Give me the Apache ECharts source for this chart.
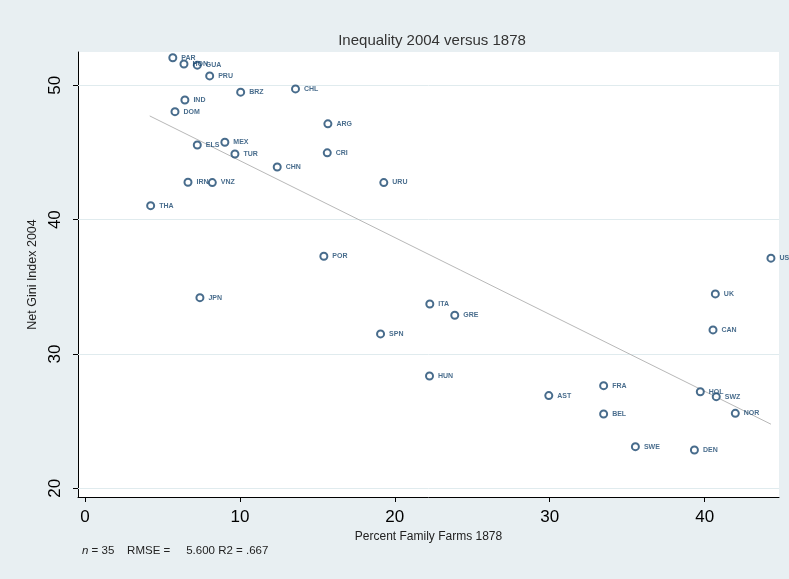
<!DOCTYPE html>
<html>
<head>
<meta charset="utf-8">
<script src="https://cdn.jsdelivr.net/npm/echarts@6/dist/echarts.min.js"></script>
<style>
  html, body { margin: 0; padding: 0; background: #e8eff2; }
  #chart { width: 789px; height: 579px; }
</style>
</head>
<body>
<div id="chart"></div>
<script>
// Country codes
const countries = ['PAR','HON','GUA','PRU','BRZ','IND','DOM','ELS','MEX','TUR','CHN','IRN','VNZ','THA',
  'ARG','CRI','URU','CHL','POR','JPN','SPN','ITA','GRE','HUN','AST','FRA','BEL','SWE','DEN','HOL','SWZ',
  'NOR','CAN','UK','US'];
// Percent family farms, 1878
const familyFarms = [5.67,6.39,7.25,8.05,10.05,6.45,5.81,7.25,9.03,9.68,12.41,6.65,8.22,4.24,
  15.68,15.64,19.29,13.59,15.42,7.42,19.08,22.26,23.87,22.24,29.94,33.48,33.48,35.53,39.34,39.72,40.75,
  41.98,40.54,40.69,44.28];
// Net Gini index, 2004
const gini2004 = [52.05,51.59,51.50,50.70,49.49,48.91,48.04,45.56,45.76,44.89,43.92,42.78,42.76,41.04,
  47.13,44.97,42.76,49.73,37.27,34.19,31.49,33.72,32.88,28.36,26.90,27.64,25.53,23.10,22.85,27.19,26.82,
  25.58,31.79,34.47,37.13];
// Fitted line end points
const fitX = [4.18, 44.28];
const fitY = [47.72, 24.77];
// Tick values
const xTicks = [0, 10, 20, 30, 40];
const yTicks = [20, 30, 40, 50];

const navy = '#1a476f';
const font = 'Liberation Sans, Arial';
const points = countries.map((c, i) => ({ name: c, value: [familyFarms[i], gini2004[i]] }));
const fitLine = fitX.map((x, i) => [x, fitY[i]]);

const chart = echarts.init(document.getElementById('chart'));
chart.setOption({
  backgroundColor: '#e8eff2',
  animation: false,
  title: {
    text: 'Inequality 2004 versus 1878',
    left: 427, top: 28, textAlign: 'center',
    textStyle: { fontFamily: font, fontSize: 15, fontWeight: 'normal', color: '#333' }
  },
  grid: {
    left: 78, right: 10, top: 52, bottom: 82,
    show: true, backgroundColor: '#ffffff', borderWidth: 0
  },
  xAxis: {
    type: 'value', min: -0.45, max: 44.8,
    name: 'Percent Family Farms 1878', nameLocation: 'middle', nameGap: 34,
    nameTextStyle: { fontFamily: font, fontSize: 12, color: '#222' },
    axisLine: { show: true, onZero: false, lineStyle: { color: '#000', width: 1 } },
    axisTick: { show: true, length: 5, customValues: xTicks, lineStyle: { color: '#000' } },
    axisLabel: { customValues: xTicks, margin: 12, fontFamily: font, fontSize: 17, color: '#000' },
    splitLine: { show: false }
  },
  yAxis: {
    type: 'value', min: 19.35, max: 52.48,
    name: 'Net Gini Index 2004', nameLocation: 'middle', nameGap: 39, nameRotate: 90,
    nameTextStyle: { fontFamily: font, fontSize: 12.5, color: '#222' },
    axisLine: { show: true, onZero: false, lineStyle: { color: '#000', width: 1 } },
    axisTick: { show: true, length: 5, customValues: yTicks, lineStyle: { color: '#000' } },
    axisLabel: { customValues: yTicks, rotate: 90, margin: 14, fontFamily: font, fontSize: 17, color: '#000' },
    splitLine: { show: false }
  },
  series: [
    {
      // horizontal reference lines at the labelled y values
      type: 'line', data: [], silent: true, z: 1,
      markLine: {
        silent: true, symbol: 'none', label: { show: false }, z: 1,
        lineStyle: { color: '#e0ebee', width: 1, type: 'solid' },
        data: yTicks.map(v => ({ yAxis: v }))
      }
    },
    {
      type: 'line', data: fitLine, symbol: 'none', silent: true, z: 2,
      lineStyle: { color: '#b8b8b8', width: 1 }
    },
    {
      type: 'scatter', data: points, symbol: 'emptyCircle', symbolSize: 7, z: 3,
      itemStyle: { color: navy, borderColor: navy, borderWidth: 1.3 },
      label: {
        show: true, position: 'right', distance: 4,
        formatter: p => p.name,
        fontFamily: font, fontSize: 7, fontWeight: 'bold', color: navy
      }
    }
  ],
  graphic: [{
    type: 'text', left: 82, top: 545,
    style: {
      text: '{i|n} = 35    RMSE =     5.600 R2 = .667',
      fontFamily: font, fontSize: 11.5, fill: '#222',
      rich: { i: { fontStyle: 'italic', fontFamily: font, fontSize: 11.5, fill: '#222' } }
    }
  }]
});
</script>
</body>
</html>
